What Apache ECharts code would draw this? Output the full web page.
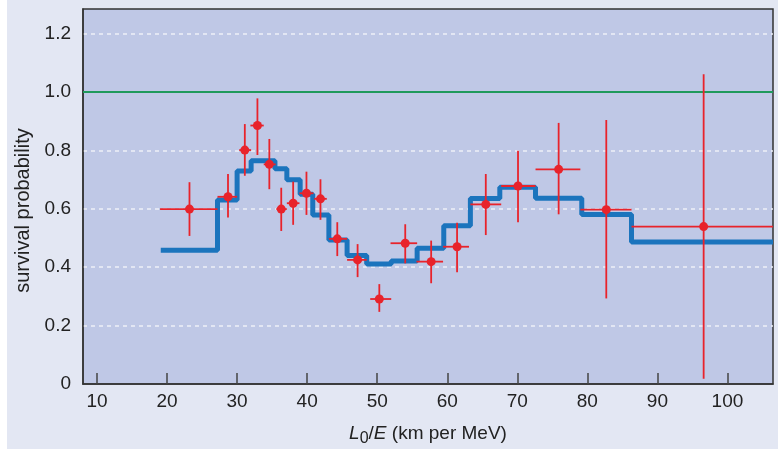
<!DOCTYPE html>
<html>
<head>
<meta charset="utf-8">
<script src="https://cdn.jsdelivr.net/npm/echarts@6/dist/echarts.min.js"></script>
<style>
  html, body { margin: 0; padding: 0; background: #fff; }
  #main { position: absolute; left: 7px; top: 0; width: 771px; height: 449px; }
</style>
</head>
<body>
<div id="main"></div>
<script>
// step curve (bin edges and level in each bin)
var stepEdges = [19.1, 27.2, 30.0, 32.0, 35.4, 37.1, 39.0, 40.8, 43.1, 45.7, 48.5, 52.0, 55.7, 59.5, 63.3, 67.5, 72.6, 79.2, 86.3, 106.5];
var stepLevels = [0.458, 0.63, 0.729, 0.764, 0.737, 0.699, 0.65, 0.579, 0.493, 0.44, 0.411, 0.421, 0.465, 0.542, 0.635, 0.674, 0.636, 0.58, 0.486];

// measured points
var ptX   = [23.2, 28.7, 31.1, 32.9, 34.6, 36.3, 38.0, 39.9, 41.9, 44.3, 47.2, 50.3, 54.0, 57.7, 61.4, 65.5, 70.1, 75.9, 82.7, 96.6];
var ptY   = [0.599, 0.641, 0.801, 0.885, 0.752, 0.599, 0.619, 0.653, 0.634, 0.497, 0.425, 0.291, 0.482, 0.419, 0.47, 0.615, 0.678, 0.735, 0.597, 0.539];
var xLow  = [19.0, 27.2, 30.3, 31.9, 33.8, 35.6, 37.1, 38.9, 41.0, 43.1, 45.7, 49.0, 51.9, 55.6, 59.4, 63.3, 67.7, 72.6, 79.0, 86.3];
var xHigh = [27.2, 30.0, 32.0, 33.8, 35.5, 37.1, 38.9, 40.9, 42.8, 45.7, 48.5, 52.0, 55.7, 59.4, 63.1, 67.7, 72.6, 79.0, 86.3, 108];
var yLow  = [0.507, 0.57, 0.713, 0.784, 0.667, 0.524, 0.545, 0.579, 0.562, 0.438, 0.366, 0.247, 0.413, 0.345, 0.383, 0.51, 0.554, 0.581, 0.293, 0.018];
var yHigh = [0.691, 0.719, 0.89, 0.978, 0.839, 0.672, 0.693, 0.727, 0.701, 0.554, 0.479, 0.342, 0.547, 0.491, 0.552, 0.719, 0.799, 0.894, 0.904, 1.061];

var xTicks = [10, 20, 30, 40, 50, 60, 70, 80, 90, 100];

var stepData = stepLevels.map(function (v, i) { return [stepEdges[i], v]; });
stepData.push([stepEdges[stepEdges.length - 1], stepLevels[stepLevels.length - 1]]);

var errData = ptX.map(function (x, i) { return [x, ptY[i], xLow[i], xHigh[i], yLow[i], yHigh[i]]; });
var dotData = ptX.map(function (x, i) { return [x, ptY[i]]; });

var red = '#e8232b';
var font = 'Liberation Sans';

var myChart = echarts.init(document.getElementById('main'));
var option = {
  backgroundColor: '#e3e7f3',
  animation: false,
  grid: {
    left: 76, right: 5, top: 9, bottom: 65,
    outerBoundsMode: 'none',
    containLabel: false,
    show: true,
    backgroundColor: '#bfc8e6',
    borderColor: '#333',
    borderWidth: 1.5
  },
  xAxis: {
    type: 'value',
    min: 8, max: 106.5,
    name: '{i|L}{s|0}{n|/}{i|E}{n| (km per MeV)}',
    nameLocation: 'middle',
    nameGap: 37,
    nameTextStyle: {
      rich: {
        i: { fontFamily: font, fontSize: 19, fontStyle: 'italic', color: '#222' },
        s: { fontFamily: font, fontSize: 16, color: '#222', padding: [10, 0, 0, 0] },
        n: { fontFamily: font, fontSize: 19, color: '#222' }
      }
    },
    axisLine: { show: true, lineStyle: { color: '#333', width: 1.5 } },
    axisTick: { inside: true, length: 11, customValues: xTicks, lineStyle: { color: '#444', width: 1.5 } },
    axisLabel: { customValues: xTicks, margin: 8, fontFamily: font, fontSize: 19, color: '#222' },
    splitLine: { show: false }
  },
  yAxis: {
    type: 'value',
    min: 0, max: 1.284,
    interval: 0.2,
    name: 'survival probability',
    nameLocation: 'middle',
    nameGap: 48,
    nameTextStyle: { fontFamily: font, fontSize: 20, color: '#222', padding: [0, 28, 0, 0] },
    axisLine: { show: true, lineStyle: { color: '#333', width: 1.5 } },
    axisTick: { show: false },
    axisLabel: {
      margin: 12, fontFamily: font, fontSize: 19, color: '#222', showMaxLabel: false,
      formatter: function (v) { return v === 0 ? '0' : v.toFixed(1); }
    },
    splitLine: { show: true, showMaxLine: false, showMinLine: false, lineStyle: { color: '#eef0f8', width: 1.5, type: [4, 4] } }
  },
  series: [
    {
      type: 'line',
      data: stepData,
      step: 'end',
      symbol: 'none',
      z: 3,
      lineStyle: { color: '#1b74bd', width: 5 },
      markLine: {
        silent: true,
        symbol: 'none',
        label: { show: false },
        lineStyle: { color: '#1f9a5c', width: 2, type: 'solid' },
        data: [{ yAxis: 1.0 }],
        z: 2
      }
    },
    {
      type: 'custom',
      data: errData,
      z: 4,
      clip: true,
      renderItem: function (params, api) {
        var c = api.coord([api.value(0), api.value(1)]);
        var xl = api.coord([api.value(2), api.value(1)]);
        var xh = api.coord([api.value(3), api.value(1)]);
        var yl = api.coord([api.value(0), api.value(4)]);
        var yh = api.coord([api.value(0), api.value(5)]);
        var st = { stroke: red, lineWidth: 1.8 };
        return {
          type: 'group',
          children: [
            { type: 'line', shape: { x1: xl[0], y1: c[1], x2: xh[0], y2: c[1] }, style: st },
            { type: 'line', shape: { x1: c[0], y1: yl[1], x2: c[0], y2: yh[1] }, style: st }
          ]
        };
      }
    },
    {
      type: 'scatter',
      data: dotData,
      symbol: 'circle',
      symbolSize: 9,
      z: 5,
      itemStyle: { color: red, opacity: 1 }
    }
  ]
};
myChart.setOption(option);
window.onresize = myChart.resize;
</script>
</body>
</html>
